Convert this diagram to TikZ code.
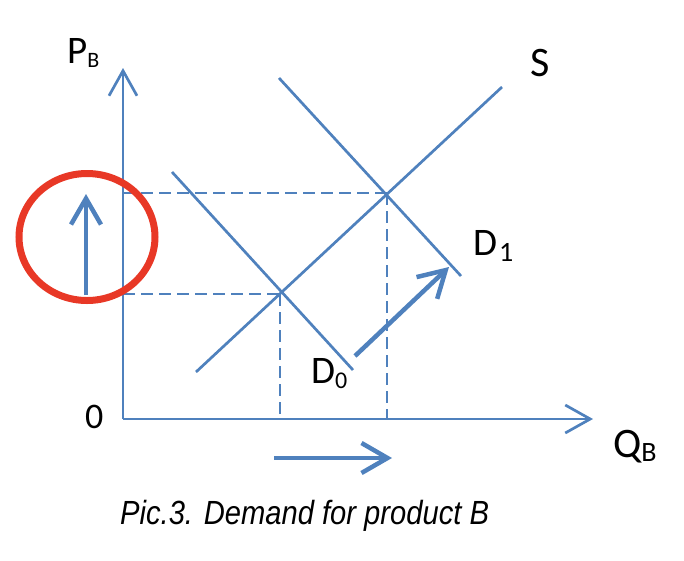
\documentclass[tikz,border=0pt]{standalone}
\usepackage{fontspec}
\setmainfont{Carlito}
\newfontfamily\capfont{Liberation Sans}
\usetikzlibrary{arrows.meta}
\definecolor{lblue}{RGB}{79,129,189}
\definecolor{cred}{RGB}{232,56,38}
\newcommand{\fs}[1]{\fontsize{#1}{#1}\selectfont}
\tikzset{
  curve/.style={draw=lblue, line width=2.7pt},
  axisline/.style={draw=lblue, line width=2.7pt, -{Straight Barb[length=25pt,width=28pt,line width=2.7pt]}},
  guide/.style={draw=lblue, line width=2.7pt, dash pattern=on 12pt off 6pt},
  shiftarrow/.style={draw=lblue, line width=4.5pt, -{Straight Barb[length=26pt,width=30pt,line width=4.5pt]}},
  lbl/.style={inner sep=0pt, anchor=base west, text=black},
}
\begin{document}
\begin{tikzpicture}[x=1pt,y=-1pt]
\useasboundingbox (0,0) rectangle (684,560);
% axes
\coordinate (O) at (123,419);
\coordinate (ytip) at (123,68);
\coordinate (xtip) at (593,419);
\draw[axisline] (O) -- (ytip);
\draw[axisline] (O) -- (xtip);
% equilibrium points
\coordinate (E0) at (280,294);
\coordinate (E1) at (387,193);
\coordinate (yE0) at (123,294);
\coordinate (yE1) at (123,193);
\coordinate (xE0) at (280,419);
\coordinate (xE1) at (387,419);
\draw[guide] (yE1) -- (E1);
\draw[guide] (yE0) -- (E0);
\draw[guide] (E0) -- (xE0);
\draw[guide] (E1) -- (xE1);
% curves
\coordinate (D0a) at (172,172);
\coordinate (D0b) at (353,370);
\coordinate (D1a) at (279,78);
\coordinate (D1b) at (461,276);
\coordinate (Sa) at (196,372);
\coordinate (Sb) at (502,87);
\draw[curve] (D0a) -- (D0b);
\draw[curve] (D1a) -- (D1b);
\draw[curve] (Sa) -- (Sb);
% shift arrows
\coordinate (sh0) at (355,356);
\coordinate (sh1) at (449,267);
\draw[shiftarrow] (sh0) -- (sh1);
\coordinate (qa) at (274,458);
\coordinate (qb) at (392,458);
\draw[shiftarrow] (qa) -- (qb);
\coordinate (pa) at (86,295);
\coordinate (pb) at (86,194);
\draw[shiftarrow] (pa) -- (pb);
% red circle
\coordinate (rc) at (87,237);
\draw[cred, line width=7pt] (rc) ellipse[x radius=68, y radius=63.5];
% labels
\node[lbl] (PB) at (67,63) {\fs{39}P\raisebox{-4pt}{\fs{22}B}};
\node[lbl] (S) at (530,76) {\fs{42}S};
\node[lbl] (D1) at (473,255) {\fs{39}D\kern2pt\raisebox{-6pt}{\fs{28}1}};
\node[lbl] (D0) at (311,383) {\fs{39}D\raisebox{-5pt}{\fs{24}0}};
\node[lbl] (zero) at (85,428) {\fs{36}0};
\node[lbl] (QB) at (613,457) {\fs{42}Q\raisebox{-4pt}{\fs{28}B}};
\node[lbl] (cap) at (120,524) {\capfont\itshape\scalebox{0.87}[1]{\fs{33.5}Pic.3. Demand for product B}};
\end{tikzpicture}
\end{document}
